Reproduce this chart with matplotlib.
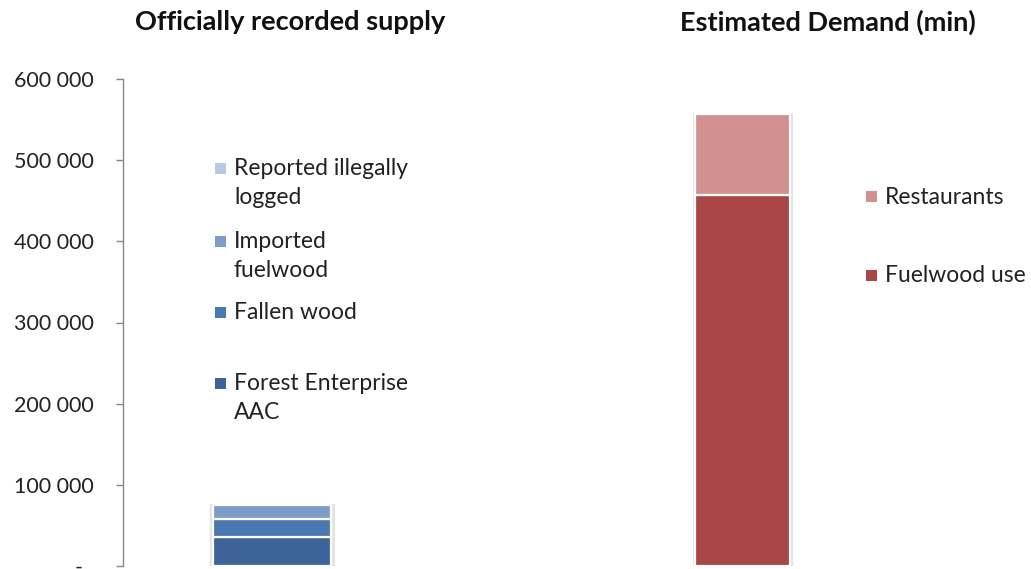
import matplotlib
matplotlib.use("Agg")
import matplotlib.pyplot as plt
from matplotlib.patches import Rectangle
from matplotlib.ticker import FixedLocator, FuncFormatter

plt.rcParams["font.family"] = ["Lato", "DejaVu Sans"]

# Officially recorded supply (m3), stacked bottom to top
supply_labels = ["Forest Enterprise\nAAC", "Fallen wood", "Imported\nfuelwood", "Reported illegally\nlogged"]
supply_values = [36000, 22000, 17000, 0]
supply_colors = ["#3D6398", "#4A78B0", "#7F9CC9", "#B8C8E0"]

# Estimated minimum demand (m3), stacked bottom to top
demand_labels = ["Fuelwood use", "Restaurants"]
demand_values = [457000, 100000]
demand_colors = ["#A84745", "#D29190"]

y_ticks = [0, 100000, 200000, 300000, 400000, 500000, 600000]

W, H, DPI = 1031, 569, 100
fig = plt.figure(figsize=(W / DPI, H / DPI), dpi=DPI)


def box(x0, x1, y_top, y_bot):
    return [x0 / W, 1 - y_bot / H, (x1 - x0) / W, (y_bot - y_top) / H]


def fx(x):
    return x / W


def fy(y):
    return 1 - y / H


def stacked_bar(ax, values, colors, width):
    bottom = 0
    for v, c in zip(values, colors):
        if v > 0:
            ax.bar(0, v, width=width, bottom=bottom, color=c,
                   edgecolor="white", linewidth=1.6, zorder=3)
        bottom += v
    # soft drop shadow around the column
    ax.bar(0, bottom, width=width * 1.03, color="none",
           edgecolor="#e4e4e4", linewidth=2.2, zorder=2)


grey = "#868686"

# ---- supply panel (with value axis) ----
ax1 = fig.add_axes(box(123, 421, 79, 566))
stacked_bar(ax1, supply_values, supply_colors, 118 / 298)
ax1.set_xlim(-0.5, 0.5)
ax1.set_ylim(0, 600000)
for s in ("top", "right", "bottom"):
    ax1.spines[s].set_visible(False)
ax1.spines["left"].set_color(grey)
ax1.spines["left"].set_linewidth(1)
ax1.set_xticks([])
ax1.yaxis.set_major_locator(FixedLocator(y_ticks))
ax1.yaxis.set_major_formatter(FuncFormatter(
    lambda v, p: "-  " if v == 0 else f"{int(v):,}".replace(",", " ")))
ax1.tick_params(axis="y", length=5, width=1, color=grey, pad=16,
                labelsize=15.5, labelcolor="#222222")

# ---- demand panel ----
ax2 = fig.add_axes(box(593.5, 891.5, 79, 566))
stacked_bar(ax2, demand_values, demand_colors, 95 / 298)
ax2.set_xlim(-0.5, 0.5)
ax2.set_ylim(0, 600000)
ax2.axis("off")

# ---- titles ----
fig.text(fx(290), fy(22), "Officially recorded supply", ha="center", va="center",
         fontsize=19.5, fontweight="bold", color="#111111")
fig.text(fx(828), fy(22), "Estimated Demand (min)", ha="center", va="center",
         fontsize=19.5, fontweight="bold", color="#111111")


# ---- legends ----
def legend_entry(x_sq, y, label, color, size=11, line_px=29):
    fig.patches.append(Rectangle((fx(x_sq), fy(y + size / 2)), size / W, size / H,
                                 transform=fig.transFigure, facecolor=color,
                                 edgecolor="none"))
    for i, line in enumerate(label.split("\n")):
        fig.text(fx(x_sq + 19), fy(y + 7 + i * line_px), line, ha="left",
                 va="baseline", fontsize=16.5, color="#222222")


supply_rows = [383, 312, 241, 168]
for lab, col, yy in zip(supply_labels, supply_colors, supply_rows):
    legend_entry(215, yy, lab, col)

demand_rows = [275, 197]
for lab, col, yy in zip(demand_labels, demand_colors, demand_rows):
    legend_entry(866, yy, lab, col)

fig.savefig("out.png", dpi=DPI)
